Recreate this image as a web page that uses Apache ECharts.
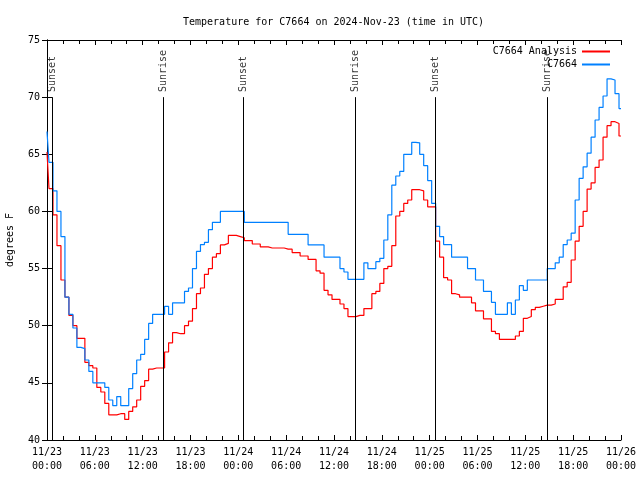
<!DOCTYPE html>
<html><head><meta charset="utf-8">
<script src="https://cdn.jsdelivr.net/npm/echarts@6/dist/echarts.min.js"></script>
<style>html,body{margin:0;padding:0;background:#fff}#c{width:640px;height:480px}</style>
</head><body><div id="c"></div>
<script>
// sampling step of the series (hours from 11/23 00:00 UTC)
const STEP_HOURS = 0.5;

// C7664 Analysis (red), one value every half hour, 0h .. 72h
const analysis = [
  65.2, 62.0, 59.7, 57.0, 54.0, 52.5, 50.9, 50.0, 48.9, 48.9, 46.8, 46.5,
  46.3, 44.6, 44.2, 43.2, 42.2, 42.2, 42.3, 42.3, 41.8, 42.5, 42.9, 43.5,
  44.7, 45.2, 46.2, 46.3, 46.3, 46.3, 47.7, 48.5, 49.4, 49.3, 49.3, 50.0,
  50.4, 51.5, 52.8, 53.3, 54.5, 55.0, 56.0, 56.3, 57.07, 57.2, 57.9, 57.9,
  57.8, 57.7, 57.45, 57.45, 57.15, 57.15, 56.9, 56.9, 56.8, 56.8, 56.8, 56.8,
  56.7, 56.7, 56.4, 56.4, 56.1, 56.1, 55.8, 55.8, 54.8, 54.6, 53.1, 52.7,
  52.3, 52.3, 51.9, 51.5, 50.8, 50.8, 50.9, 50.9, 51.5, 51.5, 52.8, 53.0,
  53.7, 55.0, 55.2, 57.0, 59.6, 60.0, 60.7, 61.0, 61.9, 61.9, 61.8, 61.0,
  60.4, 60.4, 57.4, 56.0, 54.2, 54.0, 52.8, 52.7, 52.5, 52.5, 52.5, 52.0,
  51.3, 51.3, 50.6, 50.6, 49.5, 49.3, 48.8, 48.8, 48.8, 48.8, 49.1, 49.5,
  50.65, 50.8, 51.4, 51.6, 51.7, 51.8, 51.8, 51.9, 52.3, 52.3, 53.4, 53.8,
  55.75, 57.4, 58.7, 60.0, 61.96, 62.5, 63.85, 64.5, 66.5, 67.5, 67.85, 67.7,
  66.6
];

// C7664 observations (blue), one value every half hour, 0h .. 72h
const observed = [
  67.0, 64.3, 61.8, 60.0, 57.8, 52.5, 51.0, 49.8, 48.1, 48.0, 47.0, 46.0,
  45.0, 45.0, 45.0, 44.6, 43.5, 43.0, 43.8, 43.0, 43.0, 44.5, 45.8, 47.0,
  47.5, 48.8, 50.2, 51.0, 51.0, 51.0, 51.7, 51.0, 52.0, 52.0, 52.0, 53.0,
  53.3, 55.0, 56.5, 57.1, 57.3, 58.4, 59.05, 59.05, 60.0, 60.0, 60.0, 60.0,
  60.0, 60.0, 59.05, 59.05, 59.05, 59.05, 59.05, 59.05, 59.05, 59.05, 59.05, 59.05,
  59.05, 58.0, 58.0, 58.0, 58.0, 58.0, 57.07, 57.07, 57.07, 57.07, 56.0, 56.0,
  56.0, 56.0, 55.0, 54.7, 54.06, 54.06, 54.06, 54.06, 55.5, 55.0, 55.0, 55.6,
  55.9, 57.5, 59.7, 62.3, 63.1, 63.5, 65.0, 65.0, 66.05, 66.0, 65.0, 64.0,
  62.7, 60.7, 58.7, 57.8, 57.1, 57.1, 56.0, 56.0, 56.0, 56.0, 55.0, 55.0,
  54.0, 54.0, 53.0, 53.0, 52.05, 51.0, 51.0, 51.0, 52.0, 51.0, 52.25, 53.5,
  53.1, 54.0, 54.0, 54.0, 54.0, 54.0, 55.0, 55.0, 55.5, 56.0, 57.1, 57.5,
  58.1, 61.0, 62.9, 63.9, 65.1, 66.5, 68.0, 69.1, 70.1, 71.6, 71.5, 70.3,
  69.0
];

const tickLabels = [
  '11/23\n00:00', '11/23\n06:00', '11/23\n12:00', '11/23\n18:00',
  '11/24\n00:00', '11/24\n06:00', '11/24\n12:00', '11/24\n18:00',
  '11/25\n00:00', '11/25\n06:00', '11/25\n12:00', '11/25\n18:00',
  '11/26\n00:00'
];

const eventNames = ['Sunset', 'Sunrise', 'Sunset', 'Sunrise', 'Sunset', 'Sunrise'];
const eventHours = [0.63, 14.6, 24.63, 38.68, 48.7, 62.8];
const eventLineTop = 70;   // degrees F where the marker line starts
const eventLabelAt = 70.45;

const FONT = 'DejaVu Sans Mono';
const toPairs = arr => arr.map((v, i) => [i * STEP_HOURS, v]);

const chart = echarts.init(document.getElementById('c'), null, {renderer: 'canvas'});

const xCommon = {
  type: 'value', min: 0, max: 72, interval: 6,
  axisLine: {show: true, lineStyle: {color: '#000', width: 1}},
  axisTick: {show: true, inside: true, length: 5, lineStyle: {color: '#000'}},
  minorTick: {show: true, splitNumber: 3, length: 4, lineStyle: {color: '#000'}},
  splitLine: {show: false}, minorSplitLine: {show: false}
};
const yCommon = {
  type: 'value', min: 40, max: 75, interval: 5,
  axisLine: {show: true, lineStyle: {color: '#000', width: 1}},
  axisTick: {show: true, inside: true, length: 5, lineStyle: {color: '#000'}},
  splitLine: {show: false}
};

chart.setOption({
  animation: false,
  backgroundColor: '#fff',
  title: {
    text: 'Temperature for C7664 on 2024-Nov-23 (time in UTC)',
    left: 178, top: 12,
    textStyle: {fontFamily: FONT, fontSize: 10, fontWeight: 'normal', color: '#000'}
  },
  legend: {
    data: ['C7664 Analysis', 'C7664'],
    orient: 'vertical', right: 30, top: 46, align: 'right', padding: 0,
    icon: 'rect', itemWidth: 28, itemHeight: 2, itemGap: 2,
    textStyle: {fontFamily: FONT, fontSize: 10, color: '#000', lineHeight: 11}
  },
  grid: {left: 47, right: 19, top: 40, bottom: 40, containLabel: false, outerBoundsMode: 'none'},
  xAxis: [
    Object.assign({}, xCommon, {
      position: 'bottom',
      axisLabel: {
        formatter: v => tickLabels[Math.round(v / 6)],
        fontFamily: FONT, fontSize: 10, color: '#000', lineHeight: 14, margin: 5
      }
    }),
    Object.assign({}, xCommon, {position: 'top', axisLabel: {show: false}})
  ],
  yAxis: [
    Object.assign({}, yCommon, {
      position: 'left',
      name: 'degrees F', nameLocation: 'middle', nameGap: 32,
      nameTextStyle: {fontFamily: FONT, fontSize: 10, color: '#000'},
      axisLabel: {fontFamily: FONT, fontSize: 10, color: '#000', margin: 7}
    }),
    Object.assign({}, yCommon, {position: 'right', axisLabel: {show: false}})
  ],
  series: [
    {
      name: 'C7664 Analysis', type: 'line', step: 'middle',
      data: toPairs(analysis), showSymbol: false, symbol: 'none',
      lineStyle: {color: '#ff0000', width: 1.2}, itemStyle: {color: '#ff0000'}, z: 2
    },
    {
      name: 'C7664', type: 'line', step: 'middle',
      data: toPairs(observed), showSymbol: false, symbol: 'none',
      lineStyle: {color: '#0080ff', width: 1.2}, itemStyle: {color: '#0080ff'}, z: 3
    },
    {
      name: 'events', type: 'scatter', z: 5,
      symbolSize: 1, itemStyle: {color: 'rgba(0,0,0,0)'},
      data: eventHours.map((h, i) => ({name: eventNames[i], value: [h, eventLabelAt]})),
      label: {
        show: true, formatter: p => p.name, position: 'inside', rotate: 90,
        align: 'left', verticalAlign: 'middle',
        fontFamily: FONT, fontSize: 10, color: '#000'
      },
      markLine: {
        silent: true, symbol: ['none', 'none'], label: {show: false},
        lineStyle: {color: '#000', width: 1, type: 'solid'},
        data: eventHours.map(h => [{coord: [h, eventLineTop]}, {coord: [h, 40]}])
      }
    }
  ]
});
</script></body></html>
